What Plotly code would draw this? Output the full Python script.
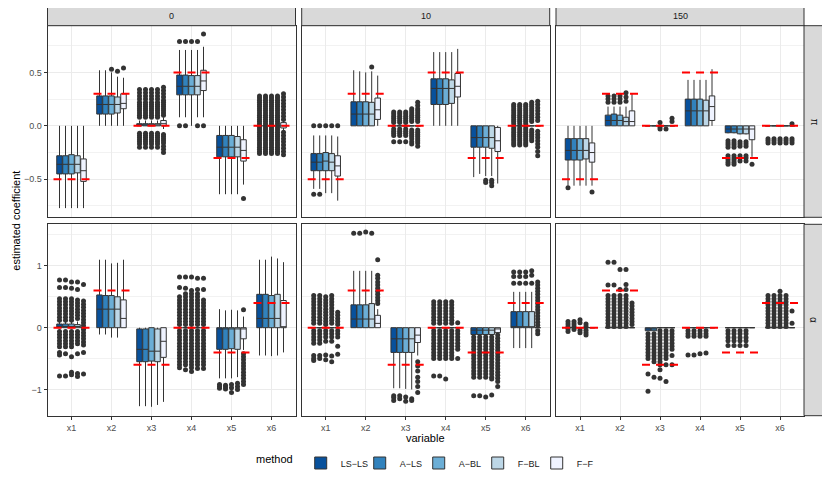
import plotly.graph_objects as go
from plotly.subplots import make_subplots

methods = ["LS\u2212LS", "A\u2212LS", "A\u2212BL", "F\u2212BL", "F\u2212F"]
variables = ["x1", "x2", "x3", "x4", "x5", "x6"]
col_facets = ["0", "10", "150"]
row_facets = ["\u03c0", "\u03b1"]
blues = ["#08519C", "#3182BD", "#6BAED6", "#BDD7E7", "#EFF3FF"]

# true coefficient values (red dashed lines)
truth_pi = [-0.5, 0.3, 0.0, 0.5, -0.3, 0.0]
truth_alpha = [0.0, 0.6, -0.6, 0.0, -0.4, 0.4]

# box stats per method, per variable: [lower whisker, q1, median, q3, upper whisker]
Z = [0.0, 0.0, 0.0, 0.0, 0.0]

pi0_stats = [
    [[-0.77, -0.45, -0.36, -0.28, 0.0], [0.0, 0.11, 0.20, 0.28, 0.52], [0.0, 0.0, 0.0, 0.02, 0.05], [0.08, 0.29, 0.37, 0.475, 0.71], [-0.64, -0.29, -0.20, -0.09, 0.0], Z],
    [[-0.77, -0.45, -0.36, -0.28, 0.0], [0.0, 0.11, 0.20, 0.28, 0.52], [0.0, 0.0, 0.0, 0.02, 0.05], [0.08, 0.29, 0.37, 0.475, 0.71], [-0.64, -0.29, -0.20, -0.09, 0.0], Z],
    [[-0.77, -0.45, -0.36, -0.27, 0.0], [0.0, 0.11, 0.20, 0.28, 0.50], [0.0, 0.0, 0.0, 0.02, 0.05], [0.0, 0.29, 0.37, 0.47, 0.71], [-0.64, -0.29, -0.20, -0.09, 0.0], Z],
    [[-0.77, -0.44, -0.36, -0.28, 0.0], [0.0, 0.12, 0.20, 0.27, 0.46], [0.0, 0.0, 0.0, 0.02, 0.05], [0.08, 0.29, 0.37, 0.47, 0.71], [-0.64, -0.29, -0.20, -0.10, 0.0], Z],
    [[-0.77, -0.52, -0.42, -0.31, 0.0], [0.0, 0.16, 0.21, 0.30, 0.45], [-0.03, 0.0, 0.02, 0.05, 0.08], [0.08, 0.33, 0.42, 0.52, 0.74], [-0.55, -0.33, -0.23, -0.13, 0.0], [-0.05, -0.02, 0.0, 0.03, 0.05]],
]
pi0_x3 = [0.34, 0.31, 0.28, 0.25, 0.22, 0.20, 0.18, 0.16, 0.14, 0.12, 0.10, 0.08, -0.07, -0.09, -0.11, -0.13, -0.15, -0.17, -0.20]
pi0_x3_ff = [0.36, 0.33, 0.30, 0.27, 0.24, 0.22, 0.20, 0.18, 0.16, 0.14, 0.12, 0.10, -0.08, -0.10, -0.12, -0.14, -0.16, -0.19, -0.22, -0.25]
pi0_x6 = [0.28, 0.26, 0.24, 0.22, 0.20, 0.18, 0.16, 0.14, 0.12, 0.10, 0.08, 0.06, 0.04, 0.02, 0.0, -0.02, -0.04, -0.06, -0.08, -0.10, -0.12, -0.14, -0.16, -0.18, -0.20, -0.22, -0.24, -0.26]
pi0_x6_ff = [0.30, 0.27, 0.24, 0.21, 0.18, 0.15, 0.12, 0.09, 0.06, -0.06, -0.09, -0.12, -0.15, -0.18, -0.21, -0.24, -0.27]
pi0_out = [
    [[], [], pi0_x3, [0.0, 0.79], [], pi0_x6],
    [[], [], pi0_x3, [0.0, 0.79], [], pi0_x6],
    [[], [0.53], pi0_x3, [0.79], [], pi0_x6],
    [[], [0.51], pi0_x3, [0.0, 0.79], [], pi0_x6],
    [[], [0.54], pi0_x3_ff, [0.0, 0.86], [-0.68], pi0_x6_ff],
]

pi10_stats = [
    [[-0.59, -0.42, -0.34, -0.26, -0.09], [0.0, 0.0, 0.11, 0.225, 0.52], Z, [0.0, 0.20, 0.35, 0.44, 0.69], [-0.48, -0.20, -0.11, 0.0, 0.0], Z],
    [[-0.59, -0.42, -0.34, -0.26, -0.09], [0.0, 0.0, 0.11, 0.225, 0.51], Z, [0.0, 0.20, 0.35, 0.44, 0.69], [-0.45, -0.20, -0.11, 0.0, 0.0], Z],
    [[-0.63, -0.42, -0.33, -0.25, -0.09], [0.0, 0.0, 0.11, 0.225, 0.50], Z, [0.0, 0.20, 0.35, 0.44, 0.69], [-0.47, -0.20, -0.11, 0.0, 0.0], Z],
    [[-0.63, -0.42, -0.34, -0.26, -0.09], [0.0, 0.0, 0.11, 0.22, 0.51], Z, [0.0, 0.21, 0.35, 0.43, 0.69], [-0.47, -0.21, -0.11, 0.0, 0.0], Z],
    [[-0.70, -0.47, -0.375, -0.28, -0.10], [0.0, 0.06, 0.15, 0.26, 0.47], Z, [0.0, 0.27, 0.37, 0.49, 0.72], [-0.54, -0.24, -0.14, -0.015, 0.0], Z],
]
pi10_x3 = [0.13, 0.11, 0.09, 0.07, 0.05, 0.03, -0.03, -0.05, -0.07, -0.09, -0.15]
pi10_x3_fbl = [0.16, 0.14, 0.12, 0.10, 0.08, 0.06, 0.04, -0.04, -0.06, -0.08, -0.10, -0.12, -0.15, -0.17]
pi10_x3_ff = [0.22, 0.19, 0.16, 0.14, 0.12, 0.10, 0.08, 0.06, 0.04, -0.04, -0.06, -0.08, -0.10, -0.12, -0.14, -0.16, -0.19]
pi10_x6 = [0.20, 0.18, 0.16, 0.14, 0.12, 0.10, 0.08, 0.06, 0.04, 0.02, -0.02, -0.04, -0.06, -0.08, -0.10, -0.12, -0.14, -0.16, -0.18]
pi10_x6_fbl = [0.22, 0.20, 0.18, 0.16, 0.14, 0.12, 0.10, 0.08, 0.06, 0.04, -0.04, -0.06, -0.08, -0.10, -0.12, -0.14]
pi10_x6_ff = [0.23, 0.20, 0.17, 0.14, 0.11, 0.08, 0.05, -0.05, -0.08, -0.11, -0.14, -0.17, -0.20, -0.24, -0.28]
pi10_out = [
    [[0.0, -0.64], [], pi10_x3, [], [], pi10_x6],
    [[0.0, -0.64], [], pi10_x3, [], [], pi10_x6],
    [[0.0], [], pi10_x3, [], [-0.51, -0.53], pi10_x6],
    [[0.0], [0.55], pi10_x3_fbl, [], [-0.51, -0.53, -0.56], pi10_x6_fbl],
    [[0.0], [], pi10_x3_ff, [], [], pi10_x6_ff],
]

pi150_stats = [
    [[-0.56, -0.32, -0.23, -0.12, 0.0], [0.0, 0.0, 0.05, 0.10, 0.18], Z, [0.0, 0.0, 0.14, 0.25, 0.43], [-0.07, -0.065, -0.03, 0.0, 0.0], Z],
    [[-0.56, -0.32, -0.23, -0.12, 0.0], [0.0, 0.0, 0.05, 0.11, 0.18], Z, [0.0, 0.0, 0.14, 0.25, 0.43], [-0.07, -0.065, -0.03, 0.0, 0.0], Z],
    [[-0.56, -0.32, -0.23, -0.12, 0.0], [0.0, 0.0, 0.05, 0.10, 0.18], Z, [0.0, 0.0, 0.14, 0.25, 0.43], [-0.08, -0.075, -0.03, 0.0, 0.0], Z],
    [[-0.56, -0.31, -0.23, -0.12, 0.0], [0.0, 0.0, 0.04, 0.08, 0.18], Z, [0.0, 0.0, 0.14, 0.24, 0.43], [-0.08, -0.075, -0.03, 0.0, 0.0], Z],
    [[-0.56, -0.34, -0.25, -0.16, 0.0], [0.0, 0.0, 0.04, 0.14, 0.30], Z, [0.0, 0.05, 0.18, 0.28, 0.53], [-0.29, -0.13, -0.03, 0.0, 0.0], Z],
]
pi150_x5 = [-0.14, -0.16, -0.18, -0.20, -0.28, -0.30, -0.32, -0.34, -0.36]
pi150_x5_abl = [-0.15, -0.17, -0.19, -0.28, -0.30, -0.33]
pi150_out = [
    [[-0.58], [0.22, 0.25, 0.28], [], [], pi150_x5, [-0.12, -0.14, -0.16]],
    [[], [0.22, 0.25, 0.28], [], [], pi150_x5, [-0.12, -0.14, -0.16]],
    [[], [0.22, 0.25, 0.28], [0.03, -0.01, -0.03], [], pi150_x5_abl, [-0.12, -0.14, -0.16]],
    [[], [0.23, 0.27, 0.31], [-0.03], [], pi150_x5_abl, [-0.12, -0.14, -0.16]],
    [[-0.62], [], [0.07, 0.04], [], [-0.36], [0.02, -0.12, -0.14, -0.16]],
]

alpha0_stats = [
    [[0.0, 0.0, 0.02, 0.06, 0.10], [-0.11, 0.0, 0.30, 0.53, 1.10], [-1.27, -0.55, -0.35, -0.02, 0.0], Z, [-0.82, -0.35, -0.02, 0.0, 0.30], [-0.45, 0.0, 0.15, 0.54, 1.10]],
    [[0.0, 0.0, 0.02, 0.06, 0.10], [-0.11, 0.0, 0.30, 0.52, 1.10], [-1.27, -0.55, -0.35, -0.02, 0.0], Z, [-0.82, -0.35, -0.02, 0.0, 0.28], [-0.45, 0.0, 0.15, 0.54, 1.10]],
    [[0.0, 0.0, 0.02, 0.06, 0.10], [-0.16, 0.0, 0.30, 0.52, 1.04], [-1.28, -0.54, -0.38, 0.0, 0.0], Z, [-0.82, -0.34, -0.02, 0.0, 0.29], [-0.46, 0.0, 0.15, 0.52, 1.15]],
    [[0.0, 0.0, 0.02, 0.05, 0.10], [-0.16, 0.0, 0.30, 0.50, 1.05], [-1.25, -0.55, -0.38, -0.02, 0.0], Z, [-0.80, -0.35, -0.02, 0.0, 0.28], [-0.45, 0.0, 0.15, 0.54, 1.12]],
    [Z, [0.0, 0.0, 0.15, 0.45, 1.10], [-1.20, -0.48, -0.22, 0.0, 0.0], Z, [-0.36, -0.18, -0.02, 0.0, 0.18], [-0.40, 0.0, 0.0, 0.44, 1.06]],
]
alpha0_out = [
    [[0.77, 0.65, 0.47, 0.42, 0.37, 0.32, 0.27, 0.22, 0.17, 0.12, -0.06, -0.11, -0.16, -0.21, -0.26, -0.31, -0.40, -0.44, -0.78], [], [],
     [0.82, 0.65, 0.50, 0.45, 0.40, 0.35, 0.30, 0.25, 0.20, 0.15, 0.10, 0.05, -0.05, -0.10, -0.15, -0.20, -0.25, -0.30, -0.35, -0.40, -0.45, -0.50, -0.55, -0.60, -0.65],
     [-0.92, -0.95, -0.98], []],
    [[0.77, 0.65, 0.47, 0.42, 0.37, 0.32, 0.27, 0.22, 0.17, 0.12, -0.06, -0.11, -0.16, -0.21, -0.26, -0.31, -0.42, -0.78], [], [],
     [0.82, 0.64, 0.55, 0.50, 0.45, 0.40, 0.35, 0.30, 0.25, 0.20, 0.15, 0.10, 0.05, -0.05, -0.10, -0.15, -0.20, -0.25, -0.30, -0.35, -0.40, -0.45, -0.50, -0.55, -0.60, -0.68],
     [-0.93, -0.96, -0.99], []],
    [[0.74, 0.64, 0.47, 0.42, 0.37, 0.32, 0.27, 0.22, 0.17, 0.12, -0.06, -0.11, -0.16, -0.21, -0.26, -0.31, -0.47, -0.72, -0.76], [], [],
     [0.82, 0.60, 0.55, 0.50, 0.45, 0.40, 0.35, 0.30, 0.25, 0.20, 0.15, 0.10, 0.05, -0.05, -0.10, -0.15, -0.20, -0.25, -0.30, -0.35, -0.40, -0.45, -0.50, -0.55, -0.60, -0.65, -0.71],
     [-0.92, -0.97, -1.05], []],
    [[0.74, 0.62, 0.45, 0.40, 0.35, 0.30, 0.25, 0.20, 0.15, -0.06, -0.11, -0.16, -0.21, -0.26, -0.42, -0.74, -0.79], [], [],
     [0.80, 0.62, 0.55, 0.50, 0.45, 0.40, 0.35, 0.30, 0.25, 0.20, 0.15, 0.10, 0.05, -0.05, -0.10, -0.15, -0.20, -0.25, -0.30, -0.35, -0.40, -0.45, -0.50, -0.55, -0.60, -0.66],
     [-0.90, -0.95, -1.00], []],
    [[0.70, 0.43, 0.38, 0.33, 0.28, 0.23, 0.18, 0.13, 0.08, 0.03, -0.03, -0.08, -0.13, -0.18, -0.23, -0.28, -0.40, -0.75], [], [],
     [0.80, 0.62, 0.45, 0.40, 0.35, 0.30, 0.25, 0.20, 0.15, 0.10, 0.05, -0.05, -0.10, -0.15, -0.20, -0.25, -0.30, -0.35, -0.40, -0.45, -0.50, -0.55, -0.60, -0.66],
     [0.29, -0.42, -0.47, -0.52, -0.57, -0.62, -0.67, -0.72, -0.77, -0.82, -0.87, -0.92], []],
]

alpha10_stats = [
    [Z, [0.0, 0.0, 0.14, 0.37, 0.92], [-0.98, -0.40, -0.18, 0.0, 0.0], Z, [-0.12, -0.11, -0.04, 0.0, 0.0], [-0.33, 0.0, 0.0, 0.26, 0.58]],
    [Z, [0.0, 0.0, 0.14, 0.37, 0.92], [-0.98, -0.40, -0.18, 0.0, 0.0], Z, [-0.12, -0.11, -0.04, 0.0, 0.0], [-0.33, 0.0, 0.0, 0.26, 0.58]],
    [Z, [0.0, 0.0, 0.14, 0.37, 0.92], [-0.99, -0.40, -0.18, 0.0, 0.0], Z, [-0.12, -0.11, -0.04, 0.0, 0.0], [-0.33, 0.0, 0.0, 0.26, 0.58]],
    [Z, [0.0, 0.0, 0.14, 0.39, 0.92], [-1.00, -0.40, -0.18, 0.0, 0.0], Z, [-0.12, -0.11, -0.04, 0.0, 0.0], [-0.33, 0.0, 0.0, 0.26, 0.58]],
    [Z, [0.0, 0.0, 0.07, 0.20, 0.30], [-0.45, -0.24, -0.12, 0.0, 0.0], Z, [-0.09, -0.08, -0.02, 0.0, 0.0], Z],
]
alpha10_x4 = [0.42, 0.37, 0.32, 0.27, 0.22, 0.17, 0.12, 0.07, -0.05, -0.10, -0.15, -0.20, -0.25, -0.30, -0.35, -0.40, -0.45, -0.50]
alpha10_x5 = [-0.15, -0.20, -0.25, -0.30, -0.35, -0.40, -0.45, -0.50, -0.55, -0.60, -0.65, -0.70, -0.75, -0.80]
alpha10_out = [
    [[0.52, 0.47, 0.42, 0.37, 0.32, 0.27, 0.22, 0.17, 0.12, 0.07, -0.05, -0.10, -0.15, -0.20, -0.25, -0.45, -0.50, -0.53],
     [1.53], [-1.10, -1.13, -1.18], alpha10_x4 + [-0.78], alpha10_x5 + [-1.10], [0.90, 0.83, 0.72]],
    [[0.52, 0.47, 0.42, 0.37, 0.32, 0.27, 0.22, 0.17, 0.12, 0.07, -0.05, -0.10, -0.15, -0.20, -0.25, -0.45, -0.50],
     [1.53], [-1.10, -1.15], alpha10_x4 + [-0.78], alpha10_x5 + [-1.10], [0.90, 0.83, 0.72]],
    [[0.50, 0.45, 0.40, 0.35, 0.30, 0.25, 0.20, 0.15, 0.10, 0.05, -0.05, -0.10, -0.15, -0.22, -0.44, -0.52],
     [1.55], [-1.12, -1.19], alpha10_x4 + [-0.83], alpha10_x5 + [-1.12], [0.90, 0.83, 0.72]],
    [[0.52, 0.47, 0.42, 0.37, 0.32, 0.27, 0.22, 0.17, 0.12, 0.07, -0.05, -0.10, -0.15, -0.22, -0.46, -0.55],
     [1.53], [-1.15, -1.18], alpha10_x4, alpha10_x5 + [-0.83, -1.09], [0.92, 0.85, 0.72]],
    [[0.25, 0.20, 0.15, 0.10, 0.05, -0.05, -0.10, -0.15, -0.30, -0.43],
     [1.10, 0.85, 0.80, 0.74, 0.69, 0.64, 0.59, 0.54, 0.49, 0.44, 0.39],
     [-0.55, -0.62, -0.70, -0.80, -0.87, -0.95, -1.05],
     [0.08, -0.05, -0.10, -0.15, -0.20, -0.25, -0.30, -0.35, -0.50],
     [-0.12, -0.17, -0.22, -0.27, -0.32, -0.37, -0.42, -0.47, -0.52, -0.57, -0.62, -0.67, -0.72, -0.77, -0.82, -0.87, -0.95],
     [0.74, 0.69, 0.64, 0.59, 0.54, 0.49, 0.44, 0.39, 0.34, 0.29, 0.24, 0.19, 0.14, 0.09, 0.04, -0.05, -0.10]],
]

alpha150_stats = [
    [Z, Z, [-0.05, -0.05, -0.02, 0.0, 0.0], Z, Z, Z],
    [Z, Z, [-0.05, -0.05, -0.02, 0.0, 0.0], Z, Z, Z],
    [Z, Z, Z, Z, Z, Z],
    [Z, Z, Z, Z, Z, Z],
    [Z, Z, Z, Z, Z, Z],
]
alpha150_x2 = [0.52, 0.47, 0.42, 0.37, 0.32, 0.27, 0.22, 0.17, 0.12, 0.07, 0.02]
alpha150_x3 = [-0.10, -0.15, -0.20, -0.25, -0.30, -0.35, -0.40, -0.45, -0.50]
alpha150_x6 = [0.52, 0.47, 0.42, 0.37, 0.32, 0.27, 0.22, 0.17, 0.12, 0.07, 0.02]
alpha150_out = [
    [[0.10, 0.06, 0.02, -0.02, -0.06], [1.06, 0.69] + alpha150_x2, alpha150_x3 + [-0.75, -1.03],
     [-0.05, -0.10, -0.14, -0.44], [-0.05, -0.10, -0.16, -0.21, -0.29], alpha150_x6],
    [[0.10, 0.06, 0.02, -0.03], [1.06, 0.69] + alpha150_x2, alpha150_x3 + [-0.55, -0.80],
     [-0.05, -0.10, -0.14, -0.44], [-0.05, -0.10, -0.16, -0.21, -0.29], alpha150_x6],
    [[0.13, 0.08, -0.04, -0.08], [0.94, 0.62] + alpha150_x2, [-0.05] + alpha150_x3 + [-0.55, -0.60, -0.68, -0.82],
     [-0.05, -0.10, -0.14, -0.42], [-0.05, -0.10, -0.16, -0.21, -0.29], [0.59] + alpha150_x6],
    [[0.06, 0.02, -0.04, -0.08, -0.12], [0.94, 0.70, 0.62] + alpha150_x2, [-0.05] + alpha150_x3 + [-0.60, -0.87],
     [-0.05, -0.10, -0.14, -0.41], [-0.05, -0.10, -0.16, -0.21, -0.29], alpha150_x6],
    [[], [0.40, 0.35, 0.30, 0.25, 0.20, 0.15, 0.10, 0.05], [-0.05, -0.10, -0.15, -0.20, -0.25, -0.30, -0.35, -0.45, -0.60],
     [], [], [0.27, 0.07]],
]

panels = [
    (1, 1, pi0_stats, pi0_out), (1, 2, pi10_stats, pi10_out), (1, 3, pi150_stats, pi150_out),
    (2, 1, alpha0_stats, alpha0_out), (2, 2, alpha10_stats, alpha10_out), (2, 3, alpha150_stats, alpha150_out),
]

FONT = "Liberation Sans, Arial, sans-serif"
INK = "#333333"
pos = list(range(1, len(variables) + 1))
dodge = 0.75 / len(methods)

fig = make_subplots(rows=2, cols=3)

for k, (r, c, stats, outs) in enumerate(panels):
    for m, name in enumerate(methods):
        s = stats[m]
        shift = (m - (len(methods) - 1) / 2) * dodge
        fig.add_trace(go.Box(
            x=[p + shift for p in pos], lowerfence=[v[0] for v in s], q1=[v[1] for v in s],
            median=[v[2] for v in s], q3=[v[3] for v in s], upperfence=[v[4] for v in s],
            width=dodge * 0.92, name=name, legendgroup=name, showlegend=(k == 0),
            fillcolor=blues[m], line=dict(color=INK, width=1), whiskerwidth=0,
            hoverinfo="skip"), row=r, col=c)
    for m, name in enumerate(methods):
        shift = (m - (len(methods) - 1) / 2) * dodge
        xs, ys = [], []
        for i, vals in enumerate(outs[m]):
            xs += [pos[i] + shift] * len(vals)
            ys += vals
        fig.add_trace(go.Scatter(x=xs, y=ys, mode="markers", marker=dict(size=5, color=INK),
                                 showlegend=False, hoverinfo="skip"), row=r, col=c)
    truth = truth_pi if r == 1 else truth_alpha
    lx, ly = [], []
    for i, t in enumerate(truth):
        lx += [pos[i] - 0.45, pos[i] + 0.45, None]
        ly += [t, t, None]
    fig.add_trace(go.Scatter(x=lx, y=ly, mode="lines", line=dict(color="#FF0000", width=2, dash="8px,6px"),
                             showlegend=False, hoverinfo="skip"), row=r, col=c)

# the page puts the figure 8px in from the top-left corner
OFF = 8
W, H = 830 - OFF, 498 - OFF


def px(x):
    return (x - OFF) / W


def py(y):
    return 1 - (y - OFF) / H


col_px = [(47.5, 295.5), (301.7, 549.7), (556.0, 804.0)]
row_px = [(25.7, 217.3), (224.3, 415.7)]
y_ranges = [[-0.856, 0.937], [-1.424, 1.673]]
y_ticks = [([-0.5, 0, 0.5], ["\u22120.5", "0.0", "0.5"]), ([-1, 0, 1], ["\u22121", "0", "1"])]
y_minor = [0.25, 0.5]

for k, (r, c, _, _) in enumerate(panels):
    sfx = "" if k == 0 else str(k + 1)
    x0, x1 = col_px[c - 1]
    y0, y1 = row_px[r - 1]
    fig.layout["xaxis" + sfx].update(
        domain=[px(x0), px(x1)], range=[0.4, 6.6], tickvals=pos, ticktext=variables,
        showgrid=True, gridcolor="#EBEBEB", gridwidth=1, zeroline=False,
        showline=True, mirror=True, linecolor=INK, linewidth=1,
        showticklabels=(r == 2), ticks="outside" if r == 2 else "", ticklen=3, tickcolor=INK,
        tickfont=dict(size=9, color="#4D4D4D"))
    fig.layout["yaxis" + sfx].update(
        domain=[py(y1), py(y0)], range=y_ranges[r - 1],
        tickvals=y_ticks[r - 1][0], ticktext=y_ticks[r - 1][1],
        showgrid=True, gridcolor="#EBEBEB", gridwidth=1, zeroline=False,
        minor=dict(showgrid=True, dtick=y_minor[r - 1], tick0=0, gridcolor="#F2F2F2", gridwidth=1),
        showline=True, mirror=True, linecolor=INK, linewidth=1,
        showticklabels=(c == 1), ticks="outside" if c == 1 else "", ticklen=3, tickcolor=INK,
        tickfont=dict(size=9, color="#4D4D4D"))

shapes, annotations = [], []
for i, lab in enumerate(col_facets):
    x0, x1 = col_px[i]
    shapes.append(dict(type="rect", xref="paper", yref="paper", x0=px(x0), x1=px(x1),
                       y0=py(25.7), y1=py(5.7), fillcolor="#D9D9D9", line=dict(color=INK, width=1)))
    annotations.append(dict(text=lab, xref="paper", yref="paper", x=px((x0 + x1) / 2), y=py(15.7),
                            xanchor="center", yanchor="middle",
                            showarrow=False, font=dict(size=9, color="#1A1A1A")))
for j, lab in enumerate(row_facets):
    y0, y1 = row_px[j]
    shapes.append(dict(type="rect", xref="paper", yref="paper", x0=px(804), x1=px(824),
                       y0=py(y1), y1=py(y0), fillcolor="#D9D9D9", line=dict(color=INK, width=1)))
    annotations.append(dict(text=lab, xref="paper", yref="paper", x=px(814), y=py((y0 + y1) / 2),
                            xanchor="center", yanchor="middle",
                            showarrow=False, textangle=90, font=dict(size=10, color="#1A1A1A")))

annotations.append(dict(text="estimated coefficient", xref="paper", yref="paper", x=0,
                        y=py(220.7), xanchor="left", yanchor="middle",
                        showarrow=False, textangle=-90, font=dict(size=11, color="black")))
annotations.append(dict(text="variable", xref="paper", yref="paper", x=px(425.7), y=py(438),
                        xanchor="center", yanchor="middle",
                        showarrow=False, font=dict(size=11, color="black")))

fig.update_layout(
    width=W, height=H, margin=dict(l=0, r=0, t=0, b=0),
    paper_bgcolor="white", plot_bgcolor="white",
    font=dict(family=FONT, size=9, color="#4D4D4D"),
    boxmode="overlay",
    shapes=shapes, annotations=annotations,
    legend=dict(orientation="h", x=px(254), xanchor="left", y=py(463), yanchor="middle",
                title=dict(text="method", side="left", font=dict(size=11, color="black")),
                font=dict(size=9, color="#1A1A1A"), itemwidth=30,
                entrywidth=14, entrywidthmode="pixels"),
)

fig.write_html("out.html")
